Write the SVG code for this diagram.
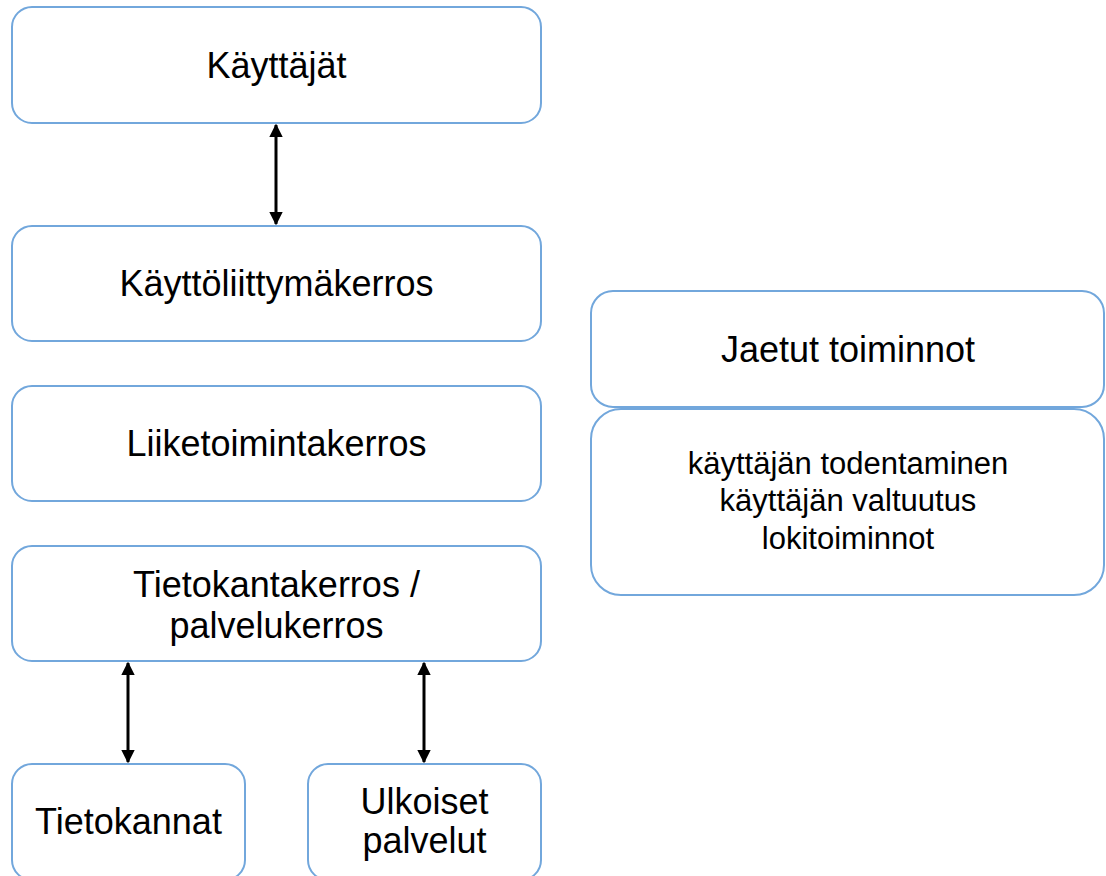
<svg xmlns="http://www.w3.org/2000/svg" width="1106" height="876" viewBox="0 0 1106 876">
  <style>
    .box { fill: #ffffff; stroke: #72a7dc; stroke-width: 2; }
    .lbl { font-family: "Liberation Sans", Arial, sans-serif; font-size: 36px; fill: #000000; text-anchor: middle; }
    .sm { font-size: 31px; }
    .conn { stroke: #000000; stroke-width: 3; fill: none; }
    .head { fill: #000000; }
  </style>
  <defs>
    <marker id="arrow" viewBox="0 0 10 10" refX="9" refY="5" markerWidth="4.6" markerHeight="4.6" orient="auto-start-reverse" markerUnits="strokeWidth">
      <path d="M0,0 L10,5 L0,10 z" class="head"/>
    </marker>
  </defs>
  <rect width="1106" height="876" fill="#ffffff"/>

  <!-- layers -->
  <g id="kayttajat">
    <rect class="box" x="12" y="7" width="529" height="116" rx="20"/>
    <text class="lbl" x="276.5" y="78">Käyttäjät</text>
  </g>
  <g id="kayttoliittyma">
    <rect class="box" x="12" y="226" width="529" height="115" rx="20"/>
    <text class="lbl" x="276.5" y="296">Käyttöliittymäkerros</text>
  </g>
  <g id="liiketoiminta">
    <rect class="box" x="12" y="386" width="529" height="115" rx="20"/>
    <text class="lbl" x="276.5" y="456">Liiketoimintakerros</text>
  </g>
  <g id="tietokantakerros">
    <rect class="box" x="12" y="546" width="529" height="115" rx="20"/>
    <text class="lbl" x="276.5" y="597">Tietokantakerros /</text>
    <text class="lbl" x="276.5" y="638">palvelukerros</text>
  </g>
  <g id="tietokannat">
    <rect class="box" x="12" y="764" width="233" height="116" rx="20"/>
    <text class="lbl" x="128.5" y="834">Tietokannat</text>
  </g>
  <g id="ulkoiset">
    <rect class="box" x="308" y="764" width="233" height="116" rx="20"/>
    <text class="lbl" x="424.5" y="814">Ulkoiset</text>
    <text class="lbl" x="424.5" y="853">palvelut</text>
  </g>

  <!-- shared functions -->
  <g id="jaetut">
    <rect class="box" x="591" y="291" width="513" height="116" rx="22"/>
    <text class="lbl" x="848" y="362">Jaetut toiminnot</text>
  </g>
  <g id="jaetut-sisalto">
    <rect class="box" x="591" y="409" width="513" height="186" rx="30"/>
    <text class="lbl sm" x="848" y="474">käyttäjän todentaminen</text>
    <text class="lbl sm" x="848" y="511">käyttäjän valtuutus</text>
    <text class="lbl sm" x="848" y="549">lokitoiminnot</text>
  </g>

  <!-- connectors -->
  <g id="connectors">
    <line class="conn" x1="276" y1="125" x2="276" y2="224" marker-start="url(#arrow)" marker-end="url(#arrow)"/>
    <line class="conn" x1="128" y1="663" x2="128" y2="762" marker-start="url(#arrow)" marker-end="url(#arrow)"/>
    <line class="conn" x1="424" y1="663" x2="424" y2="762" marker-start="url(#arrow)" marker-end="url(#arrow)"/>
  </g>
</svg>
